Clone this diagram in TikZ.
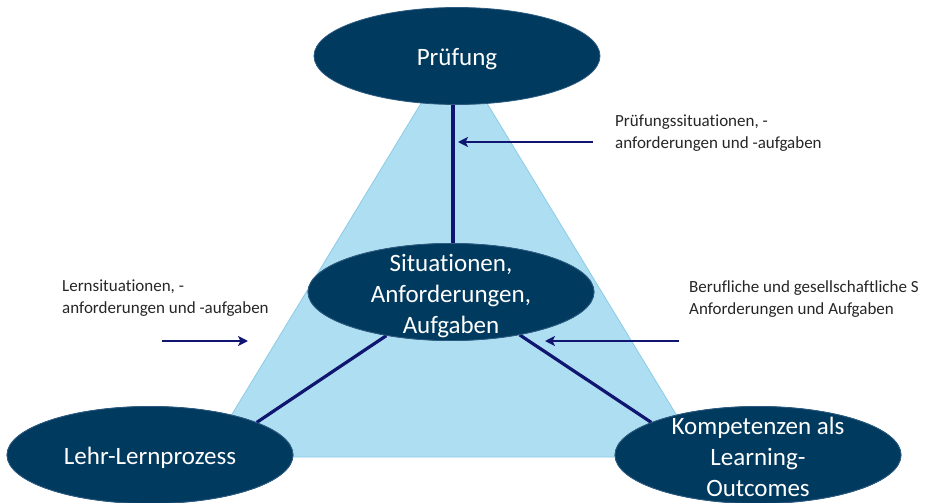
\documentclass[tikz,border=0pt]{standalone}
\usepackage{fontspec}
\setmainfont{Carlito}[Ligatures={NoCommon}]
\usetikzlibrary{shapes.geometric,arrows.meta}
\definecolor{ellfill}{HTML}{003A5F}
\definecolor{ellline}{HTML}{2E5A80}
\definecolor{trifill}{HTML}{ADDEF2}
\definecolor{triline}{HTML}{8CCBE6}
\definecolor{navy}{HTML}{101570}
\definecolor{labtext}{HTML}{262626}
\begin{document}
\begin{tikzpicture}[x=1pt,y=-1pt,
  ell/.style={ellipse, fill=ellfill, draw=ellline, line width=0.8pt, minimum width=286pt, minimum height=97pt, inner sep=0pt},
  elltext/.style={text=white, font=\fontsize{25}{31}\selectfont, align=center, inner sep=0pt},
  conn/.style={draw=navy, line width=3.2pt},
  pointer/.style={draw=navy, line width=2.4pt, -{Stealth[length=10pt,width=10pt,inset=2.5pt]}},
  lab/.style={font=\fontsize{17}{22}\selectfont, align=left, anchor=north west, inner sep=0pt, text=labtext}]
\useasboundingbox (0,0) rectangle (929,503);
\fill[trifill, draw=triline, line width=0.8pt] (454,49) -- (206,457) -- (702,457) -- cycle;
\node[ell] (pruef) at (457,56) {};
\node[ell] (mid) at (451,292) {};
\node[ell] (lehr) at (150,455) {};
\node[ell] (komp) at (758,455) {};
\draw[conn] ([xshift=-4pt]pruef.south) -- ([xshift=2pt]mid.north);
\draw[conn] (mid.214) -- (lehr.17);
\draw[conn] (mid.328) -- (komp.163);
\node[ell] at (mid.center) {};
\node[ell] at (lehr.center) {};
\node[ell] at (komp.center) {};
\node[elltext] (tpruef) at ([yshift=-3pt]pruef.center) {Prüfung};
\node[elltext] (tmid) at ([yshift=-4pt]mid.center) {Situationen,\\Anforderungen,\\Aufgaben};
\node[elltext] (tlehr) at ([yshift=-3pt]lehr.center) {Lehr-Lernprozess};
\node[elltext] (tkomp) at ([yshift=-2pt]komp.center) {Kompetenzen als\\Learning-\\Outcomes};
\coordinate (a1s) at (593,142);
\coordinate (a1e) at (458,142);
\coordinate (a2s) at (162,341);
\coordinate (a2e) at (248,341);
\coordinate (a3s) at (679,341);
\coordinate (a3e) at (545,341);
\draw[pointer] (a1s) -- (a1e);
\draw[pointer] (a2s) -- (a2e);
\draw[pointer] (a3s) -- (a3e);
\node[lab] (lab1) at (615,115) {Prüfungssituationen, -\\anforderungen und -aufgaben};
\node[lab] (lab2) at (62,280) {Lernsituationen, -\\anforderungen und -aufgaben};
\node[lab] (lab3) at (689,280) {Berufliche und gesellschaftliche S\\Anforderungen und Aufgaben};
\end{tikzpicture}
\end{document}
